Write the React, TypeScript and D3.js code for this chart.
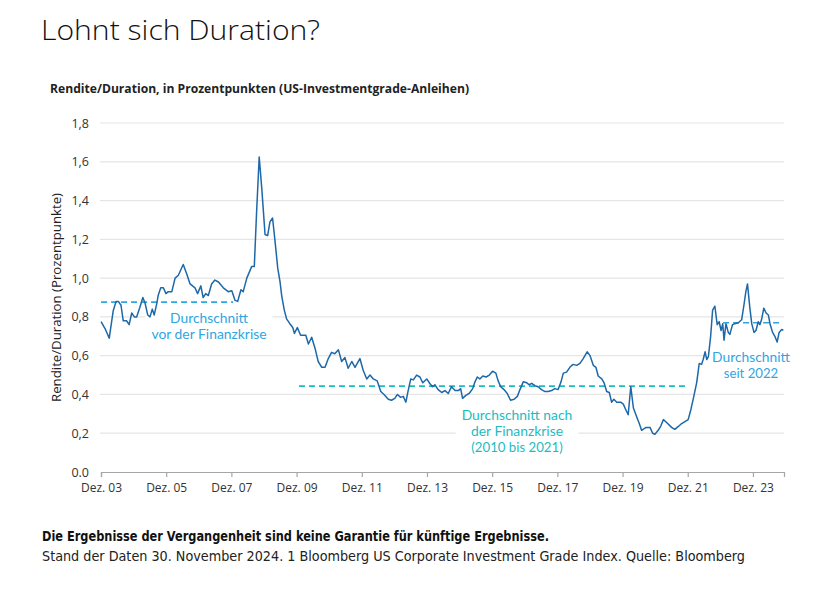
import React, { useEffect, useRef } from "react";
import * as d3 from "d3";

// ---- Data ----
const years: number[] = [
  2003.92, 2004.04, 2004.17, 2004.29, 2004.38, 2004.45, 2004.53, 2004.6, 2004.7, 2004.78,
  2004.86, 2004.94, 2005.01, 2005.11, 2005.2, 2005.27, 2005.35, 2005.42, 2005.49, 2005.55,
  2005.63, 2005.67, 2005.75, 2005.83, 2005.91, 2005.98, 2006.09, 2006.19, 2006.29, 2006.44,
  2006.55, 2006.65, 2006.8, 2006.88, 2006.98, 2007.05, 2007.13, 2007.21, 2007.31, 2007.41,
  2007.52, 2007.67, 2007.82, 2007.93, 2008.03, 2008.11, 2008.21, 2008.28, 2008.39, 2008.49,
  2008.54, 2008.62, 2008.69, 2008.77, 2008.85, 2008.95, 2009.03, 2009.1, 2009.18, 2009.25,
  2009.34, 2009.41, 2009.46, 2009.54, 2009.61, 2009.71, 2009.8, 2009.85, 2009.94, 2010.04,
  2010.2, 2010.28, 2010.38, 2010.48, 2010.58, 2010.69, 2010.79, 2010.89, 2010.99, 2011.09,
  2011.2, 2011.3, 2011.4, 2011.5, 2011.61, 2011.71, 2011.86, 2011.96, 2012.07, 2012.17,
  2012.27, 2012.39, 2012.5, 2012.6, 2012.73, 2012.83, 2012.93, 2013.01, 2013.11, 2013.19,
  2013.27, 2013.34, 2013.42, 2013.5, 2013.6, 2013.7, 2013.79, 2013.91, 2014.01, 2014.09,
  2014.16, 2014.26, 2014.37, 2014.47, 2014.57, 2014.67, 2014.78, 2014.88, 2014.95, 2015.01,
  2015.11, 2015.21, 2015.32, 2015.39, 2015.46, 2015.54, 2015.63, 2015.73, 2015.83, 2015.93,
  2016.03, 2016.1, 2016.18, 2016.28, 2016.38, 2016.48, 2016.59, 2016.69, 2016.77, 2016.87,
  2016.98, 2017.05, 2017.13, 2017.23, 2017.33, 2017.43, 2017.54, 2017.64, 2017.74, 2017.84,
  2017.94, 2018.03, 2018.1, 2018.2, 2018.3, 2018.4, 2018.51, 2018.61, 2018.71, 2018.83,
  2018.92, 2019.02, 2019.1, 2019.17, 2019.28, 2019.35, 2019.43, 2019.51, 2019.58, 2019.65,
  2019.74, 2019.86, 2019.94, 2020.02, 2020.09, 2020.17, 2020.25, 2020.35, 2020.43, 2020.5,
  2020.64, 2020.76, 2020.84, 2020.91, 2021.01, 2021.09, 2021.17, 2021.27, 2021.42, 2021.52,
  2021.63, 2021.73, 2021.83, 2021.93, 2022.01, 2022.09, 2022.19, 2022.27, 2022.34, 2022.39,
  2022.45, 2022.5, 2022.55, 2022.62, 2022.68, 2022.75, 2022.82, 2022.88, 2022.94, 2022.99,
  2023.03, 2023.09, 2023.16, 2023.21, 2023.29, 2023.36, 2023.47, 2023.57, 2023.64, 2023.7,
  2023.75, 2023.82, 2023.88, 2023.95, 2024.01, 2024.08, 2024.13, 2024.18, 2024.25, 2024.32,
  2024.39, 2024.44, 2024.52, 2024.59, 2024.66, 2024.72, 2024.8, 2024.85,
];
const values: number[] = [
  0.775, 0.74, 0.69, 0.83, 0.88, 0.88, 0.86, 0.78, 0.78, 0.76,
  0.82, 0.8, 0.8, 0.85, 0.9, 0.87, 0.81, 0.8, 0.84, 0.81,
  0.87, 0.91, 0.95, 0.95, 0.92, 0.93, 0.93, 1.0, 1.015, 1.07,
  1.02, 0.97, 0.95, 0.92, 0.96, 0.9, 0.92, 0.91, 0.97, 0.99,
  0.98, 0.95, 0.93, 0.935, 0.885, 0.88, 0.94, 0.93, 1.0, 1.04,
  1.06, 1.06, 1.34, 1.625, 1.46, 1.225, 1.22, 1.29, 1.31, 1.2,
  1.05, 0.98, 0.91, 0.835, 0.79, 0.765, 0.745, 0.715, 0.745, 0.705,
  0.705, 0.66, 0.695, 0.64, 0.57, 0.54, 0.54, 0.585, 0.617, 0.61,
  0.63, 0.57, 0.59, 0.535, 0.57, 0.54, 0.585, 0.525, 0.48, 0.5,
  0.48, 0.47, 0.415, 0.4, 0.375, 0.37, 0.38, 0.4, 0.385, 0.39,
  0.36, 0.42, 0.48, 0.475, 0.5, 0.49, 0.46, 0.48, 0.455, 0.44,
  0.45, 0.425, 0.41, 0.42, 0.405, 0.44, 0.42, 0.42, 0.43, 0.38,
  0.395, 0.405, 0.43, 0.465, 0.49, 0.48, 0.495, 0.49, 0.5, 0.52,
  0.51, 0.47, 0.44, 0.425, 0.405, 0.37, 0.375, 0.39, 0.425, 0.465,
  0.46, 0.45, 0.457, 0.445, 0.44, 0.425, 0.415, 0.415, 0.42, 0.43,
  0.425, 0.465, 0.51, 0.515, 0.54, 0.555, 0.55, 0.56, 0.585, 0.62,
  0.6, 0.55, 0.54, 0.495, 0.48, 0.46, 0.415, 0.41, 0.36, 0.375,
  0.36, 0.36, 0.35, 0.32, 0.295, 0.44, 0.33, 0.285, 0.25, 0.215,
  0.23, 0.23, 0.2, 0.195, 0.215, 0.237, 0.27, 0.255, 0.23, 0.22,
  0.235, 0.25, 0.26, 0.27, 0.32, 0.38, 0.46, 0.56, 0.555, 0.58,
  0.62, 0.58, 0.595, 0.7, 0.835, 0.855, 0.76, 0.775, 0.73, 0.765,
  0.68, 0.765, 0.72, 0.71, 0.76, 0.765, 0.77, 0.785, 0.86, 0.93,
  0.97, 0.85, 0.765, 0.72, 0.73, 0.775, 0.76, 0.785, 0.845, 0.82,
  0.81, 0.765, 0.72, 0.7, 0.67, 0.72, 0.735, 0.73,
];

const yTicks: number[] = [0, 0.2, 0.4, 0.6, 0.8, 1.0, 1.2, 1.4, 1.6, 1.8];
const yTickLabels: string[] = ["0.0", "0,2", "0,4", "0,6", "0,8", "1,0", "1,2", "1,4", "1,6", "1,8"];
const xTickYears: number[] = [2003.917, 2005.917, 2007.917, 2009.917, 2011.917, 2013.917, 2015.917, 2017.917, 2019.917, 2021.917, 2023.917];
const xTickLabels: string[] = ["Dez. 03", "Dez. 05", "Dez. 07", "Dez. 09", "Dez. 11", "Dez. 13", "Dez. 15", "Dez. 17", "Dez. 19", "Dez. 21", "Dez. 23"];

const avgStarts: number[] = [2003.92, 2009.99, 2023.0];
const avgEnds: number[] = [2007.97, 2021.92, 2024.74];
const avgValues: number[] = [0.876, 0.443, 0.77];
const avgTexts: string[][] = [
  ["Durchschnitt", "vor der Finanzkrise"],
  ["Durchschnitt nach", "der Finanzkrise", "(2010 bis 2021)"],
  ["Durchschnitt", "seit 2022"],
];

const TITLE = "Lohnt sich Duration?";
const SUBTITLE = "Rendite/Duration, in Prozentpunkten (US-Investmentgrade-Anleihen)";
const Y_TITLE = "Rendite/Duration (Prozentpunkte)";
const FOOT1 = "Die Ergebnisse der Vergangenheit sind keine Garantie für künftige Ergebnisse.";
const FOOT2 = "Stand der Daten 30. November 2024. 1 Bloomberg US Corporate Investment Grade Index. Quelle: Bloomberg";

const FONT = "'Open Sans', 'Noto Sans', sans-serif";
const ANN_FONT = "Lato, 'Open Sans', sans-serif";
const NARROW = "'Liberation Sans Narrow', 'DejaVu Sans Condensed', 'Roboto Condensed', sans-serif";

export default function App() {
  const ref = useRef<SVGSVGElement | null>(null);

  useEffect(() => {
    const svg = d3.select(ref.current);
    svg.selectAll("*").remove();

    const x = d3.scaleLinear().domain([2003.917, 2024.87]).range([101, 784]);
    const y = d3.scaleLinear().domain([0, 1.8]).range([472, 123]);

    // Title texts
    svg.append("text").attr("x", 41).attr("y", 40).attr("font-family", FONT).attr("font-weight", 300)
      .attr("font-size", 27).attr("fill", "#111").attr("textLength", 279).attr("lengthAdjust", "spacingAndGlyphs")
      .text(TITLE);
    svg.append("text").attr("x", 50).attr("y", 93).attr("font-family", FONT).attr("font-weight", 700)
      .attr("font-size", 12).attr("fill", "#222").attr("textLength", 419).attr("lengthAdjust", "spacingAndGlyphs")
      .text(SUBTITLE);

    // Grid
    const grid = svg.append("g");
    yTicks.filter((t) => t > 0).forEach((t) => {
      grid.append("line").attr("x1", 100).attr("x2", 784).attr("y1", y(t)).attr("y2", y(t))
        .attr("stroke", "#e5e5e5").attr("stroke-width", 1.2);
    });

    // Y tick labels
    yTicks.forEach((t, i) => {
      svg.append("text").attr("x", 89).attr("y", y(t) + 4.5).attr("text-anchor", "end")
        .attr("font-family", FONT).attr("font-size", 12.5).attr("fill", "#333").text(yTickLabels[i]);
    });

    // Y axis title
    svg.append("text").attr("transform", `translate(61,${297.5}) rotate(-90)`).attr("text-anchor", "middle")
      .attr("font-family", FONT).attr("font-size", 12.5).attr("fill", "#222")
      .attr("textLength", 209).attr("lengthAdjust", "spacingAndGlyphs").text(Y_TITLE);

    // X axis
    const xAxis = d3.axisBottom(x).tickValues(xTickYears).tickSize(5).tickPadding(6)
      .tickFormat((_, i) => xTickLabels[i]);
    const gx = svg.append("g").attr("transform", "translate(0,472)").call(xAxis as any);
    gx.select(".domain").attr("stroke", "#a6a6a6").attr("stroke-width", 1.2);
    gx.selectAll(".tick line").attr("stroke", "#a6a6a6").attr("stroke-width", 1.2);
    gx.selectAll(".tick text").attr("font-family", FONT).attr("font-size", 12).attr("fill", "#333");

    const colors = ["#2fa6df", "#1dbcbf", "#2fa6df"];
    const annPos = [
      { cx: 209, y0: 323 },
      { cx: 517, y0: 420 },
      { cx: 751, y0: 362 },
    ];

    // Annotation white boxes + text (one text element per line)
    const annG = svg.append("g");
    avgTexts.forEach((lines, k) => {
      const g = annG.append("g");
      const rect = g.append("rect").attr("fill", "#fff");
      let minX = Infinity, maxX = -Infinity;
      lines.forEach((ln, j) => {
        // measure the width in the wider reference-like face, then draw in a compact face
        const probe = g.append("text").attr("font-family", FONT).attr("font-size", 13).text(ln);
        const w = (probe.node() as SVGTextElement).getComputedTextLength();
        probe.remove();
        g.append("text").attr("x", annPos[k].cx).attr("y", annPos[k].y0 + j * 16)
          .attr("text-anchor", "middle").attr("font-family", ANN_FONT).attr("font-size", 13)
          .attr("fill", colors[k]).attr("textLength", w).attr("lengthAdjust", "spacingAndGlyphs").text(ln);
        minX = Math.min(minX, annPos[k].cx - w / 2);
        maxX = Math.max(maxX, annPos[k].cx + w / 2);
      });
      const top = annPos[k].y0 - 13;
      const bottom = annPos[k].y0 + (lines.length - 1) * 16 + 5;
      rect.attr("x", minX - 6).attr("y", top).attr("width", maxX - minX + 12).attr("height", bottom - top);
    });

    // Average dashed lines
    avgValues.forEach((v, k) => {
      svg.append("line").attr("x1", x(avgStarts[k])).attr("x2", x(avgEnds[k]))
        .attr("y1", y(v)).attr("y2", y(v)).attr("stroke", colors[k]).attr("stroke-width", 1.6)
        .attr("stroke-dasharray", "6,4");
    });

    // Data line
    const pts = years.map((yr, i) => [yr, values[i]] as [number, number]);
    const line = d3.line<[number, number]>().x((d) => x(d[0])).y((d) => y(d[1]));
    svg.append("path").attr("d", line(pts) as string).attr("fill", "none")
      .attr("stroke", "#1d68a8").attr("stroke-width", 1.5).attr("stroke-linejoin", "round");

    // Footer
    svg.append("text").attr("x", 42).attr("y", 541).attr("font-family", NARROW).attr("font-weight", 700)
      .attr("font-size", 13.5).attr("fill", "#111").attr("textLength", 507).attr("lengthAdjust", "spacingAndGlyphs")
      .text(FOOT1);
    svg.append("text").attr("x", 42).attr("y", 561).attr("font-family", NARROW)
      .attr("font-size", 13.5).attr("fill", "#222").attr("textLength", 703).attr("lengthAdjust", "spacingAndGlyphs")
      .text(FOOT2);
  }, []);

  return (
    <svg ref={ref} width={822} height={590}
      style={{ position: "absolute", left: 0, top: 0, background: "#fff" }} />
  );
}
